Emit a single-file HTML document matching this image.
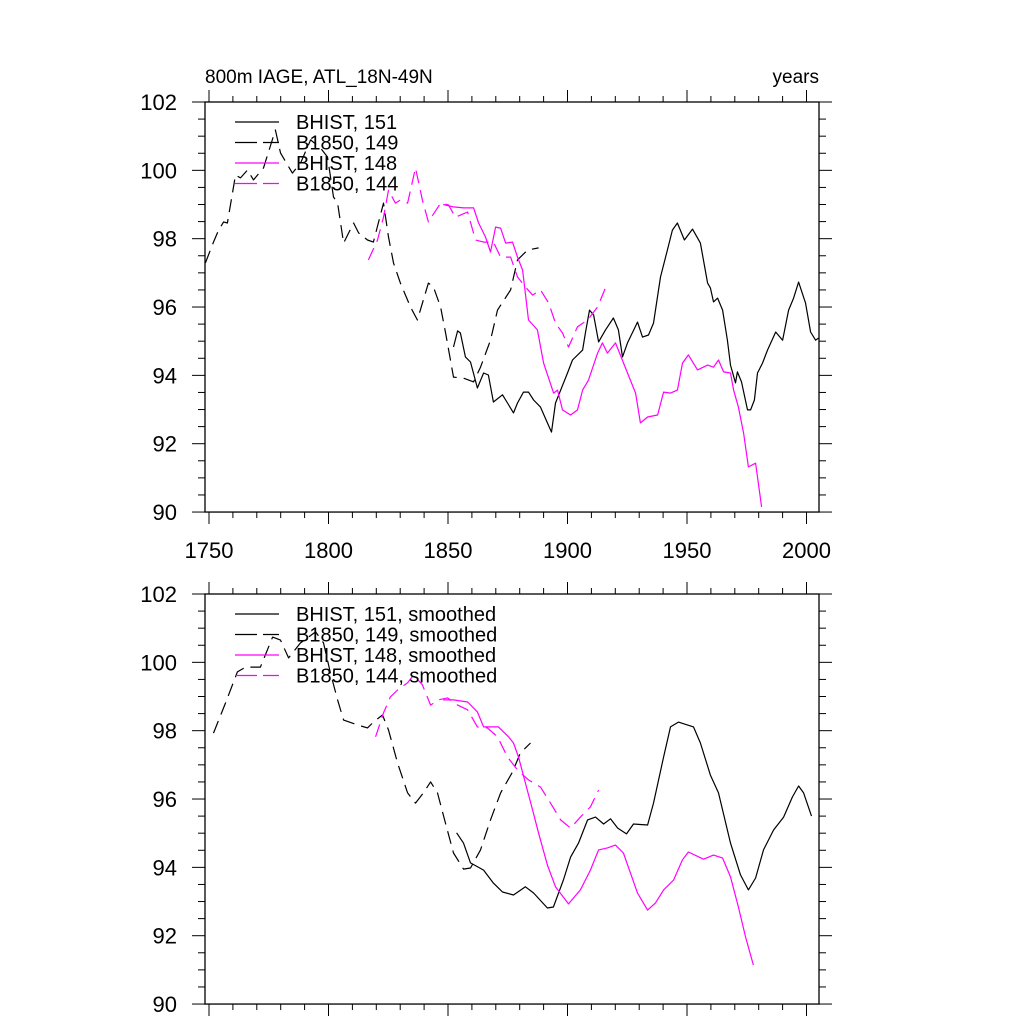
<!DOCTYPE html>
<html><head><meta charset="utf-8"><style>
html,body{margin:0;padding:0;background:#fff;}
svg{display:block;font-family:"Liberation Sans",sans-serif;}
</style></head><body>
<svg id="chart" width="1024" height="1024" viewBox="0 0 1024 1024" xmlns="http://www.w3.org/2000/svg">
<rect x="0" y="0" width="1024" height="1024" fill="#fff"/>
<text x="205" y="83" font-size="19">800m IAGE, ATL_18N-49N</text>
<text x="819" y="83" font-size="19" text-anchor="end">years</text>
<g id="top"></g>
<g id="bot"></g>
</svg>
<script>
// ---- data: top panel (raw) ----
const yTicks = [90, 92, 94, 96, 98, 100, 102];
const xTickLabels = [1750, 1800, 1850, 1900, 1950, 2000];

const t151Years = [1852.3,1854.0,1855.2,1857.3,1859.4,1862.3,1864.9,1866.9,1869.0,1872.8,1874.9,1877.4,1879.1,1881.6,1883.7,1885.8,1888.7,1891.6,1893.3,1895.0,1900.0,1902.1,1906.3,1907.5,1909.2,1910.9,1913.0,1915.9,1919.2,1921.3,1923.0,1925.1,1929.3,1931.4,1933.9,1936.0,1938.9,1941.8,1943.9,1946.0,1948.9,1952.3,1955.6,1958.6,1959.8,1961.1,1962.8,1964.9,1966.9,1968.2,1970.3,1971.1,1972.8,1975.3,1976.6,1978.2,1979.5,1981.6,1983.7,1987.1,1990.0,1992.5,1994.6,1996.7,1999.6,2001.7,2003.8,2005.0];
const t151Values = [94.83,95.30,95.24,94.54,94.39,93.63,94.07,94.01,93.22,93.43,93.19,92.90,93.19,93.51,93.51,93.28,93.07,92.61,92.34,93.19,94.07,94.45,94.74,95.24,95.91,95.77,94.98,95.33,95.68,95.33,94.54,94.95,95.56,95.12,95.18,95.53,96.88,97.67,98.25,98.46,97.96,98.28,97.87,96.70,96.56,96.15,96.26,95.91,95.03,94.30,93.78,94.10,93.81,92.99,92.99,93.28,94.07,94.36,94.74,95.27,95.03,95.91,96.26,96.73,96.12,95.27,95.03,95.09];

const t149Years = [1748.5,1751.9,1754.0,1756.1,1757.7,1761.1,1763.2,1766.1,1768.6,1772.8,1777.8,1779.9,1784.9,1788.3,1792.5,1796.7,1799.6,1802.1,1803.8,1806.3,1810.5,1812.6,1816.3,1818.8,1823.0,1825.1,1827.2,1830.1,1834.3,1837.2,1841.8,1843.9,1846.9,1849.0,1852.3,1856.5,1860.7,1863.6,1867.8,1870.7,1876.2,1879.1,1883.3,1887.9];
const t149Values = [97.29,97.90,98.25,98.49,98.46,99.86,99.78,100.01,99.72,100.07,101.18,100.51,99.92,100.21,100.89,100.65,100.39,99.22,99.04,97.87,98.46,98.17,97.96,97.90,99.04,98.05,97.29,96.70,96.00,95.62,96.70,96.59,96.00,95.24,93.95,93.92,93.81,94.24,95.03,95.91,96.50,97.38,97.67,97.73];

const t148Years = [1848.0,1852.3,1856.5,1860.7,1862.8,1865.7,1867.8,1869.9,1872.0,1874.1,1877.0,1879.1,1881.2,1883.7,1887.4,1890.0,1894.2,1895.8,1897.9,1901.3,1904.2,1906.3,1908.8,1912.6,1914.6,1916.7,1920.1,1925.1,1928.5,1930.5,1933.5,1937.7,1940.2,1943.1,1946.0,1948.1,1950.6,1954.4,1958.6,1961.1,1963.2,1965.3,1968.2,1969.5,1971.5,1973.7,1975.7,1978.7,1981.2];
const t148Values = [99.00,98.93,98.90,98.90,98.46,98.05,97.61,98.34,98.31,97.87,97.90,97.46,97.08,95.62,95.33,94.36,93.48,93.57,92.99,92.84,92.99,93.57,93.86,94.65,94.95,94.65,94.95,94.07,93.48,92.61,92.78,92.84,93.51,93.48,93.57,94.36,94.60,94.16,94.30,94.24,94.45,94.10,94.07,93.57,93.07,92.31,91.32,91.43,90.15];

const t144Years = [1816.7,1820.5,1823.0,1825.1,1828.0,1830.1,1833.1,1836.4,1839.3,1841.8,1846.9,1850.2,1853.1,1858.2,1861.5,1864.9,1869.0,1872.0,1876.2,1879.1,1882.4,1885.4,1888.7,1892.1,1895.0,1897.9,1900.4,1904.2,1908.4,1912.6,1916.7];
const t144Values = [97.38,97.96,98.63,99.42,99.04,99.13,99.04,100.07,99.13,98.49,99.04,98.99,98.63,98.78,97.96,97.90,97.90,97.46,97.46,96.88,96.59,96.35,96.50,96.12,95.53,95.24,94.83,95.42,95.62,96.00,96.70];

// ---- data: bottom panel (smoothed) ----
const s151Years = [1853.6,1856.5,1859.4,1864.9,1869.0,1872.8,1877.4,1882.4,1885.8,1891.6,1894.1,1898.3,1901.3,1904.6,1908.4,1911.7,1915.1,1918.0,1921.0,1924.7,1927.6,1933.5,1936.0,1940.2,1943.1,1946.4,1952.7,1955.6,1959.8,1963.2,1968.2,1972.4,1975.7,1978.7,1982.0,1986.2,1990.4,1994.1,1996.7,1998.8,2002.1];
const s151Values = [95.01,94.71,94.13,93.92,93.54,93.28,93.19,93.43,93.25,92.81,92.84,93.63,94.30,94.71,95.39,95.47,95.27,95.42,95.15,94.98,95.27,95.24,95.88,97.23,98.11,98.25,98.11,97.64,96.70,96.18,94.71,93.78,93.34,93.69,94.51,95.09,95.47,96.06,96.38,96.18,95.50];

const s149Years = [1751.9,1756.9,1761.9,1765.3,1771.5,1776.6,1779.9,1783.3,1788.3,1794.6,1797.9,1800.8,1803.8,1806.3,1812.1,1816.3,1818.8,1822.6,1825.1,1828.9,1833.1,1836.4,1839.7,1842.7,1845.6,1848.9,1852.3,1856.5,1859.4,1863.6,1867.8,1872.0,1877.0,1880.3,1884.5];
const s149Values = [97.93,98.81,99.72,99.86,99.86,100.74,100.65,100.13,100.57,100.89,100.57,99.69,98.90,98.31,98.17,98.08,98.25,98.46,98.02,97.05,96.18,95.88,96.18,96.50,96.18,95.30,94.42,93.95,93.98,94.51,95.39,96.18,96.79,97.35,97.64];

const s148Years = [1848.0,1852.3,1858.2,1862.3,1864.9,1871.1,1875.3,1877.4,1879.5,1882.4,1885.4,1887.9,1891.6,1895.0,1900.4,1905.4,1909.6,1913.0,1916.7,1920.1,1923.4,1929.3,1933.5,1936.8,1940.2,1944.4,1948.1,1950.6,1956.9,1961.1,1964.9,1968.2,1971.5,1974.5,1977.8];
const s148Values = [98.90,98.90,98.84,98.55,98.11,98.11,97.82,97.64,97.23,96.47,95.68,95.00,94.07,93.43,92.93,93.34,93.92,94.51,94.57,94.65,94.42,93.25,92.75,92.96,93.34,93.63,94.22,94.45,94.24,94.36,94.27,93.72,92.84,91.96,91.14];

const s144Years = [1819.7,1823.0,1825.9,1828.9,1833.1,1835.6,1839.3,1842.7,1846.0,1849.8,1854.0,1858.2,1862.3,1866.5,1870.7,1874.9,1879.1,1883.7,1888.7,1892.9,1897.1,1901.3,1905.4,1909.6,1913.0];
const s144Values = [97.82,98.52,98.99,99.19,99.40,99.63,99.34,98.75,98.90,98.96,98.75,98.61,98.11,98.08,97.82,97.23,96.85,96.56,96.35,95.88,95.39,95.15,95.47,95.77,96.26];

const topLegend = ["BHIST, 151", "B1850, 149", "BHIST, 148", "B1850, 144"];
const botLegend = ["BHIST, 151, smoothed", "B1850, 149, smoothed", "BHIST, 148, smoothed", "B1850, 144, smoothed"];

// ---- geometry ----
const X0 = 205, X1 = 819;
const xScale = yr => 209 + (yr - 1750) * 2.39;
function makeY(top){ return v => top + (102 - v) * 34.17; }
const NS = "http://www.w3.org/2000/svg";
function mk(tag, attrs, parent){
  const e = document.createElementNS(NS, tag);
  for (const k in attrs) e.setAttribute(k, attrs[k]);
  parent.appendChild(e); return e;
}
const styles = [
  {stroke:"#000", dash:""},
  {stroke:"#000", dash:"13 7"},
  {stroke:"#ff00ff", dash:""},
  {stroke:"#ff00ff", dash:"13 7"}
];

function panel(g, top, series, legend, showXLabels){
  const yS = makeY(top);
  const bot = yS(90);
  const fr = mk("rect", {x:X0, y:top, width:X1-X0, height:bot-top, fill:"none", stroke:"#000", "stroke-width":1.3}, g);
  
  
  for (let yr = 1750; yr <= 2000; yr += 10){
    const x = xScale(yr), L = (yr % 50 === 0) ? 12 : 6;
    const t1 = mk("line", {x1:x, x2:x, y1:top, y2:top-L, stroke:"#000", "stroke-width":1}, g);
    
    
    const t2 = mk("line", {x1:x, x2:x, y1:bot, y2:bot+L, stroke:"#000", "stroke-width":1}, g);
    
    
  }
  if (showXLabels){
    xTickLabels.forEach(yr => {
      const t = mk("text", {x:xScale(yr), y:bot+46, "font-size":22, "text-anchor":"middle"}, g);
      t.textContent = yr;
      
      
    });
  }
  for (let i = 0; i <= 24; i++){
    const v = 90 + i * 0.5, y = yS(v), L = (i % 4 === 0) ? 13 : 7;
    const a = mk("line", {x1:X0, x2:X0-L, y1:y, y2:y, stroke:"#000", "stroke-width":1}, g);
    
    
    const b = mk("line", {x1:X1, x2:X1+L, y1:y, y2:y, stroke:"#000", "stroke-width":1}, g);
    
    
  }
  yTicks.forEach(v => {
    const t = mk("text", {x:177, y:yS(v)+8, "font-size":22, "text-anchor":"end"}, g);
    t.textContent = v;
    
    
  });
  series.forEach((s, i) => {
    const pts = s[0].map((yr, k) => xScale(yr).toFixed(1) + "," + yS(s[1][k]).toFixed(1)).join(" ");
    const p = mk("polyline", {points:pts, fill:"none", stroke:styles[i].stroke, "stroke-width":1.2, "stroke-linejoin":"round"}, g);
    if (styles[i].dash) p.setAttribute("stroke-dasharray", styles[i].dash);
    
    
  });
  legend.forEach((lab, i) => {
    const y = top + 20 + i * 20.5;
    const l = mk("line", {x1:235, x2:279, y1:y, y2:y, stroke:styles[i].stroke, "stroke-width":1.2}, g);
    if (styles[i].dash) l.setAttribute("stroke-dasharray", "22 6");
    
    
    const t = mk("text", {x:296, y:y+7, "font-size":20}, g);
    t.textContent = lab;
    
    
  });
}

panel(document.getElementById("top"), 102,
  [[t151Years,t151Values],[t149Years,t149Values],[t148Years,t148Values],[t144Years,t144Values]],
  topLegend, true);
panel(document.getElementById("bot"), 594,
  [[s151Years,s151Values],[s149Years,s149Values],[s148Years,s148Values],[s144Years,s144Values]],
  botLegend, false);
</script>
</body></html>
